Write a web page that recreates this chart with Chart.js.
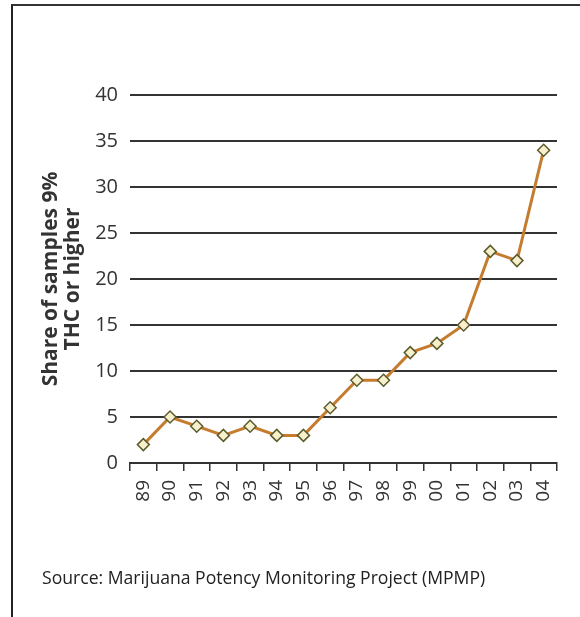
<!DOCTYPE html>
<html>
<head>
<meta charset="utf-8">
<script src="https://cdn.jsdelivr.net/npm/chart.js@4.4.1/dist/chart.umd.min.js"></script>
<style>
  html, body { margin: 0; padding: 0; background: #fff; }
  #wrap { position: relative; width: 580px; height: 617px; overflow: hidden; }
  #frame { position: absolute; left: 11px; top: 4px; width: 600px; height: 700px;
           border-top: 2px solid #333; border-left: 2px solid #222; }
  #c { position: absolute; left: 0; top: 0; }
  #source { position: absolute; left: 42px; top: 565px; font-family: "Open Sans", sans-serif;
            font-size: 17.6px; color: #222; white-space: nowrap; }
</style>
</head>
<body>
<div id="wrap">
  <div id="frame"></div>
  <canvas id="c" width="580" height="617"></canvas>
  <div id="source">Source: Marijuana Potency Monitoring Project (MPMP)</div>
</div>
<script>
const years = ['89','90','91','92','93','94','95','96','97','98','99','00','01','02','03','04'];
const shareHighTHC = [2, 5, 4, 3, 4, 3, 3, 6, 9, 9, 12, 13, 15, 23, 22, 34];
const yTitle = ['Share of samples 9%', 'THC or higher'];
const yMin = 0, yMax = 40, yStep = 5;

new Chart(document.getElementById('c'), {
  type: 'line',
  data: {
    labels: years,
    datasets: [{
      data: shareHighTHC,
      borderColor: '#c67c2e',
      borderWidth: 3,
      tension: 0,
      pointStyle: 'rectRot',
      pointRadius: 6,
      pointHoverRadius: 6,
      pointBackgroundColor: '#f6f0cc',
      pointBorderColor: '#5e5a2c',
      pointBorderWidth: 1.5
    }]
  },
  options: {
    responsive: false,
    animation: false,
    events: [],
    layout: { padding: { left: 0, right: 23, top: 95, bottom: 0 } },
    plugins: { legend: { display: false }, tooltip: { enabled: false }, title: { display: false } },
    scales: {
      x: {
        offset: true,
        grid: { offset: true, drawOnChartArea: false, drawTicks: true, tickLength: 8, color: '#333', lineWidth: 1.5 },
        border: { display: true, color: '#333', width: 2 },
        ticks: { minRotation: 90, maxRotation: 90, padding: 9, color: '#333',
                 font: { family: 'Open Sans', size: 19 } },
        afterFit: (s) => { s.height = 154; }
      },
      y: {
        min: yMin, max: yMax,
        ticks: { stepSize: yStep, padding: 12, color: '#333', font: { family: 'Open Sans', size: 20 } },
        grid: { color: '#333', lineWidth: 2, drawTicks: false },
        border: { display: false },
        title: { display: true, text: yTitle, color: '#333', padding: { top: 40, bottom: 0 },
                 font: { family: 'Open Sans', size: 21, weight: 'bold', lineHeight: 1.05 } },
        afterFit: (s) => { s.width = 130; }
      }
    }
  }
});
</script>
</body>
</html>
